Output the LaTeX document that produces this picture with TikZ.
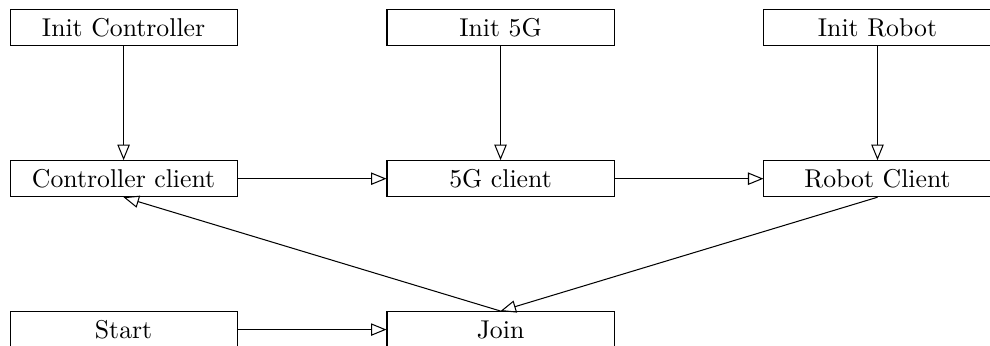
\documentclass[tikz,border=0pt]{standalone}
\usepackage{tikz}
\usetikzlibrary{arrows.meta,positioning}

\begin{document}
\begin{tikzpicture}[->,>={Triangle[open,length=6pt,width=4.8pt]},
  node distance=44.2pt and 57.8pt,
  block/.style={rectangle,draw,minimum width=88.2pt,minimum height=14pt,inner sep=2pt}]
    \node[block](initctrl){Init Controller};
    \node[block,right=of initctrl](init5g){Init 5G};
    \node[block,right=of init5g](initrobot){Init Robot};
    \node[block,below=of initctrl](ctrlclient){Controller client};
    \node[block,below=of init5g](fgclient){5G client};
    \node[block,below=of initrobot](robotclient){Robot Client};
    \node[block,below=of ctrlclient](start){Start};
    \node[block,below=of fgclient](join){Join};
    \path (initctrl) edge (ctrlclient)
          (init5g) edge (fgclient)
          (initrobot) edge (robotclient)
          (ctrlclient) edge (fgclient)
          (fgclient) edge (robotclient)
          (start) edge (join)
    ;
    \path (robotclient.south) edge (join.north)
          (join.north) edge (ctrlclient.south)
    ;
    \pgfresetboundingbox
    \useasboundingbox ([xshift=-3.7pt,yshift=3.6pt]initctrl.north west) rectangle ++(384.5pt,-134pt);
\end{tikzpicture}
\end{document}
